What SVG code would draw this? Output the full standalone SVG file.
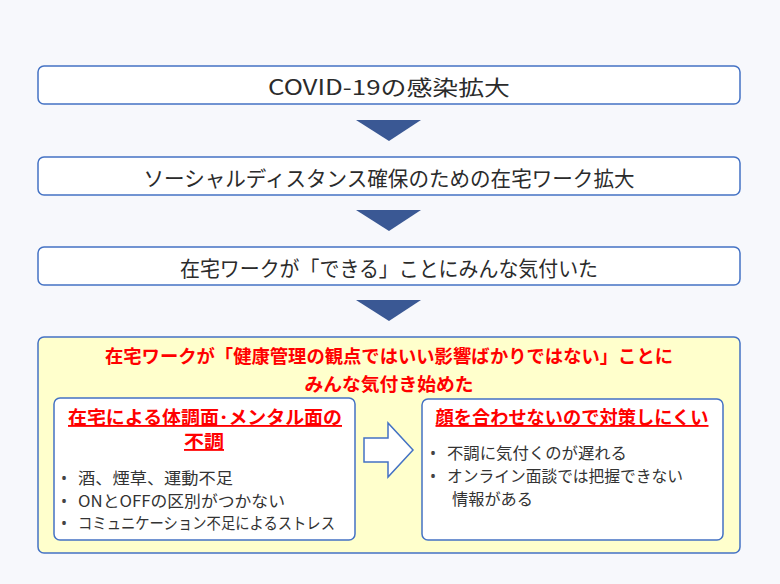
<svg xmlns="http://www.w3.org/2000/svg" width="780" height="584" viewBox="0 0 780 584">
<style>
.box{fill:#fff;stroke:#4472c4;stroke-width:1.5}
.t{font-family:"Noto Sans CJK JP","Noto Sans",sans-serif;fill:#2b2b2b;text-anchor:middle;font-size:21px}
.r{font-family:"Noto Sans CJK JP","Noto Sans",sans-serif;fill:#ff0000;font-weight:bold;text-anchor:middle;font-size:18.5px}
.b{font-family:"Noto Sans CJK JP","Noto Sans",sans-serif;fill:#333;font-size:16px}
.dot{font-family:"Noto Sans",sans-serif;fill:#444;font-size:16px}
.tri{fill:#3a5894}
</style>
<rect width="780" height="584" fill="#f7f8fc"/>
<g id="connectors">
<polygon class="tri" points="356,120 421,120 389,141"/>
<polygon class="tri" points="356,210 421,210 389,231"/>
<polygon class="tri" points="356,300 421,300 389,321"/>
</g>
<g id="n1"><rect class="box" x="38" y="66" width="702" height="38" rx="6"/><text class="t" x="389" y="95" textLength="242" lengthAdjust="spacingAndGlyphs">COVID-19の感染拡大</text></g>
<g id="n2"><rect class="box" x="38" y="157" width="702" height="38" rx="6"/><text class="t" x="389" y="186" textLength="491" lengthAdjust="spacingAndGlyphs">ソーシャルディスタンス確保のための在宅ワーク拡大</text></g>
<g id="n3"><rect class="box" x="38" y="247" width="702" height="38" rx="6"/><text class="t" x="389" y="276" textLength="418" lengthAdjust="spacingAndGlyphs">在宅ワークが「できる」ことにみんな気付いた</text></g>
<g id="n4">
<rect x="38" y="337" width="702" height="216" rx="6" fill="#ffffcc" stroke="#4472c4" stroke-width="1.5"/>
<text class="r" x="389" y="363" textLength="568" lengthAdjust="spacingAndGlyphs">在宅ワークが「健康管理の観点ではいい影響ばかりではない」ことに</text>
<text class="r" x="389" y="391" textLength="169" lengthAdjust="spacingAndGlyphs">みんな気付き始めた</text>
</g>
<g id="n5">
<rect class="box" x="54" y="398" width="301" height="142" rx="6"/>
<text class="r" x="205" y="424" text-decoration="underline" textLength="274" lengthAdjust="spacingAndGlyphs">在宅による体調面･メンタル面の</text>
<text class="r" x="204" y="448" text-decoration="underline" textLength="40" lengthAdjust="spacingAndGlyphs">不調</text>
<text class="dot" x="61" y="484">•</text>
<text class="dot" x="61" y="507">•</text>
<text class="dot" x="61" y="529">•</text>
<text class="b" x="78" y="484" textLength="155" lengthAdjust="spacingAndGlyphs">酒、煙草、運動不足</text>
<text class="b" x="78" y="507" textLength="207" lengthAdjust="spacingAndGlyphs">ONとOFFの区別がつかない</text>
<text class="b" x="78" y="529" textLength="257" lengthAdjust="spacingAndGlyphs">コミュニケーション不足によるストレス</text>
</g>
<g id="arrow"><polygon points="364,438 388,438 388,423 413,450 388,477 388,462 364,462" fill="#fff" stroke="#4472c4" stroke-width="1.5"/></g>
<g id="n6">
<rect class="box" x="422" y="399" width="301" height="141" rx="6"/>
<text class="r" x="572" y="424" text-decoration="underline" textLength="273" lengthAdjust="spacingAndGlyphs">顔を合わせないので対策しにくい</text>
<text class="dot" x="430" y="459">•</text>
<text class="dot" x="430" y="482">•</text>
<text class="b" x="447" y="459" textLength="180" lengthAdjust="spacingAndGlyphs">不調に気付くのが遅れる</text>
<text class="b" x="447" y="482" textLength="236" lengthAdjust="spacingAndGlyphs">オンライン面談では把握できない</text>
<text class="b" x="452" y="505" textLength="81" lengthAdjust="spacingAndGlyphs">情報がある</text>
</g>
</svg>
